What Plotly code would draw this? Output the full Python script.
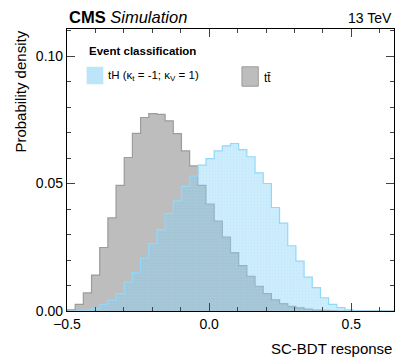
"""SC-BDT response shapes for tH (kt=-1, kV=1) vs ttbar, CMS simulation style."""

import numpy as np
import plotly.graph_objects as go

# binning of the histograms (40 bins on the axis range)
BIN_LO = -0.5
BIN_HI = 0.65
N_BINS = 40

# per-bin probability
TTBAR = [
    0.0005, 0.0026, 0.0071, 0.0141, 0.0249, 0.0365, 0.0493, 0.0602, 0.0697, 0.0759,
    0.0774, 0.0771, 0.0746, 0.0696, 0.0628, 0.0569, 0.0493, 0.0419, 0.0353, 0.0290,
    0.0229, 0.0178, 0.0136, 0.0097, 0.0068, 0.0044, 0.0029, 0.0018, 0.0012, 0.0007,
    0.0004, 0.0003, 0.0001, 0.0, 0.0, 0.0, 0.0, 0.0, 0.0, 0.0,
]
TH = [
    0.0, 0.0001, 0.0004, 0.0010, 0.0026, 0.0042, 0.0068, 0.0113, 0.0152, 0.0207,
    0.0264, 0.0319, 0.0382, 0.0432, 0.0489, 0.0529, 0.0572, 0.0598, 0.0628, 0.0648,
    0.0657, 0.0633, 0.0605, 0.0542, 0.0500, 0.0406, 0.0345, 0.0256, 0.0196, 0.0133,
    0.0092, 0.0052, 0.0026, 0.0013, 0.0005, 0.0001, 0.0, 0.0, 0.0, 0.0,
]

X_TICKS = [-0.5, 0.0, 0.5]
Y_TICKS = [0.0, 0.05, 0.10]

FONT = "Liberation Sans, Arial, Helvetica, sans-serif"
GREY_FILL = "#bdbdbd"
GREY_LINE = "#9c9c9c"
BLUE_LINE = "#92d8f8"


def step_xy(values):
    edges = np.linspace(BIN_LO, BIN_HI, N_BINS + 1)
    x = [edges[0]] + list(edges)
    y = [0.0] + list(values) + [0.0]
    return x, y


fig = go.Figure()

x, y = step_xy(TTBAR)
fig.add_trace(
    go.Scatter(
        x=x, y=y, mode="lines", line=dict(shape="hv", color=GREY_LINE, width=1.2),
        fill="tozeroy", fillcolor=GREY_FILL, showlegend=False, hoverinfo="skip",
    )
)

# checkered light-blue fill, partly see-through so the ttbar shape shows under it
x, y = step_xy(TH)
fig.add_trace(
    go.Scatter(
        x=x, y=y, mode="lines", line=dict(shape="hv", color=BLUE_LINE, width=1.2),
        fill="tozeroy", fillcolor="rgba(125,208,248,0.38)",
        fillpattern=dict(shape=".", fgcolor="rgba(165,222,250,0.55)", size=3, solidity=0.4),
        showlegend=False, hoverinfo="skip",
    )
)

axis_common = dict(
    showline=True, linecolor="black", linewidth=1.2, mirror="ticks",
    ticks="inside", tickcolor="#444", ticklen=8, tickwidth=1,
    showgrid=False, zeroline=False,
    tickfont=dict(family=FONT, size=14, color="black"),
)
fig.update_xaxes(
    range=[BIN_LO, BIN_HI], tickvals=X_TICKS, tickformat=".1f",
    minor=dict(dtick=0.1, tick0=0, ticks="inside", ticklen=4, tickcolor="#444"),
    **axis_common,
)
fig.update_yaxes(
    range=[0, 0.1106], tickvals=Y_TICKS, tickformat=".2f",
    minor=dict(dtick=0.01, tick0=0, ticks="inside", ticklen=4, tickcolor="#444"),
    **axis_common,
)

annotations = [
    dict(x=0, y=1.005, xref="paper", yref="paper", xanchor="left", yanchor="bottom",
         text="<b>CMS</b> <i>Simulation</i>", showarrow=False,
         font=dict(family=FONT, size=16.5, color="black")),
    dict(x=1, y=1.005, xref="paper", yref="paper", xanchor="right", yanchor="bottom",
         text="13 TeV", showarrow=False, font=dict(family=FONT, size=14, color="black")),
    dict(x=-0.145, y=1, xref="paper", yref="paper", xanchor="center", yanchor="top",
         text="Probability density", textangle=-90, showarrow=False,
         font=dict(family=FONT, size=15, color="black")),
    dict(x=1, y=-0.095, xref="paper", yref="paper", xanchor="right", yanchor="top",
         text="SC-BDT response", showarrow=False,
         font=dict(family=FONT, size=15, color="black")),
    dict(x=0.06, y=0.922, xref="paper", yref="paper", xanchor="left", yanchor="middle",
         text="<b>Event classification</b>", showarrow=False,
         font=dict(family=FONT, size=11.5, color="black")),
    dict(x=0.118, y=0.835, xref="paper", yref="paper", xanchor="left", yanchor="middle",
         text="tH (κ<sub>t</sub> = -1; κ<sub>V</sub> = 1)", showarrow=False,
         font=dict(family=FONT, size=11.5, color="black")),
    dict(x=0.595, y=0.825, xref="paper", yref="paper", xanchor="left", yanchor="middle",
         text="tt\u0304", showarrow=False,
         font=dict(family=FONT, size=12, color="black")),
]

shapes = [
    dict(type="rect", xref="paper", yref="paper", x0=0.06, x1=0.111, y0=0.804, y1=0.866,
         fillcolor="#bce5fa", line=dict(width=0)),
    dict(type="rect", xref="paper", yref="paper", x0=0.535, x1=0.585, y0=0.797, y1=0.866,
         fillcolor=GREY_FILL, line=dict(color=GREY_LINE, width=1)),
]

fig.update_layout(
    width=415, height=358,
    margin=dict(l=67, r=21, t=29, b=47),
    plot_bgcolor="white", paper_bgcolor="white",
    font=dict(family=FONT, color="black"),
    annotations=annotations, shapes=shapes,
    showlegend=False,
)

# drop the browser's default body margin so the figure sits at the page corner
fig.write_html(
    "out.html",
    config={"displayModeBar": False},
    post_script="document.body.style.margin = '0px';",
)
